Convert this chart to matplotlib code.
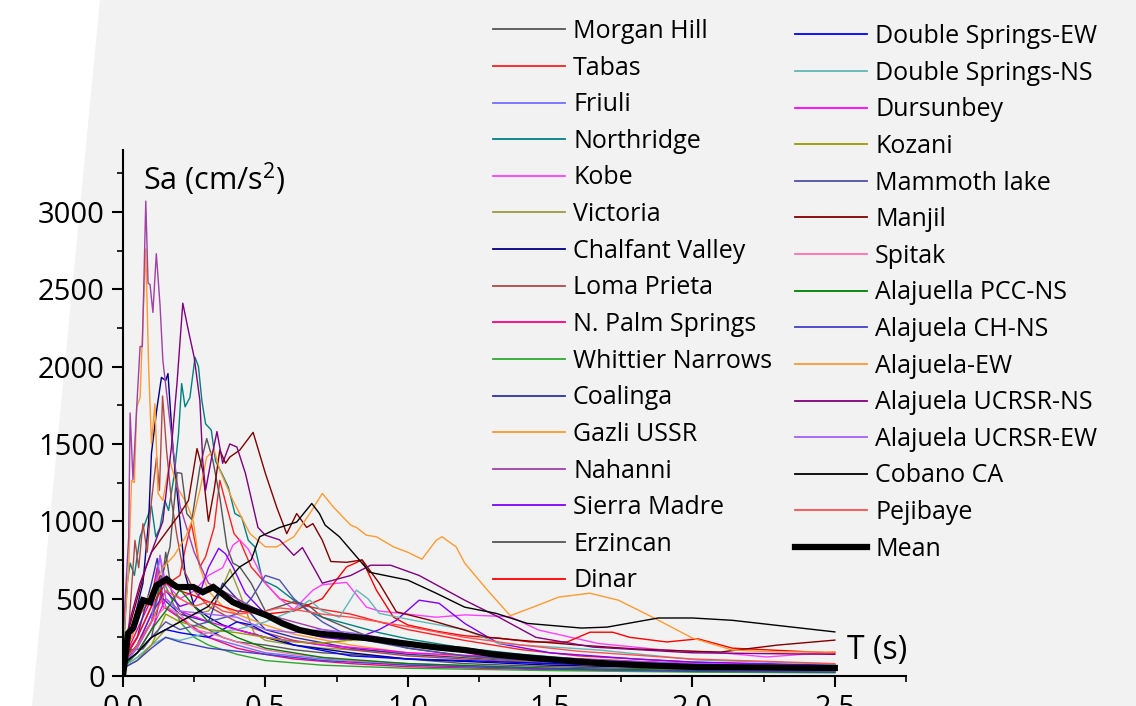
import matplotlib
matplotlib.use("Agg")
import matplotlib.pyplot as plt
from matplotlib.patches import Polygon
from matplotlib.ticker import MultipleLocator

plt.rcParams['font.family'] = ['Open Sans', 'DejaVu Sans']
plt.rcParams['mathtext.fontset'] = 'custom'
plt.rcParams['mathtext.rm'] = 'Open Sans'
plt.rcParams['mathtext.it'] = 'Open Sans'

# ---------------- data: (T [s], Sa [cm/s^2]) ----------------
morgan_hill = [(0, 80), (0.03, 170), (0.07, 175), (0.1, 250), (0.13, 500), (0.15, 800), (0.17, 550), (0.2, 420),
               (0.25, 350), (0.3, 300), (0.35, 250), (0.4, 220), (0.5, 200), (0.6, 170), (0.7, 150), (0.8, 140),
               (1.0, 110), (1.2, 80), (1.5, 60), (2.0, 40), (2.5, 30)]
tabas = [(0, 150), (0.03, 250), (0.06, 400), (0.1, 500), (0.13, 650), (0.16, 600), (0.2, 650), (0.22, 835),
         (0.24, 985), (0.27, 705), (0.29, 770), (0.32, 960), (0.34, 1265), (0.365, 1090), (0.39, 920), (0.41, 877),
         (0.45, 705), (0.5, 600), (0.55, 500), (0.6, 470), (0.7, 430), (0.8, 400), (0.9, 350), (1.0, 300),
         (1.2, 230), (1.4, 170), (1.6, 130), (2.0, 90), (2.5, 60)]
friuli = [(0, 90), (0.05, 200), (0.1, 350), (0.13, 560), (0.15, 450), (0.2, 380), (0.25, 300), (0.3, 250),
          (0.4, 200), (0.5, 150), (0.7, 110), (1.0, 80), (1.5, 50), (2.0, 35), (2.5, 25)]
northridge = [(0, 100), (0.015, 600), (0.025, 730), (0.04, 650), (0.06, 900), (0.08, 1000), (0.1, 1100),
              (0.115, 900), (0.13, 960), (0.147, 1135), (0.16, 1070), (0.18, 1300), (0.195, 1565), (0.206, 1890),
              (0.218, 1740), (0.235, 1800), (0.253, 2060), (0.265, 2000), (0.277, 1780), (0.29, 1630),
              (0.31, 1590), (0.325, 1390), (0.347, 1310), (0.37, 1220), (0.393, 1050), (0.417, 1025),
              (0.44, 877), (0.463, 835), (0.49, 620), (0.54, 575), (0.6, 490), (0.65, 420), (0.7, 380),
              (0.8, 330), (0.9, 280), (1.0, 240), (1.2, 180), (1.4, 140), (1.6, 110), (1.8, 90), (2.0, 75),
              (2.5, 55)]
kobe = [(0, 120), (0.05, 250), (0.1, 450), (0.13, 780), (0.15, 600), (0.2, 500), (0.25, 550), (0.3, 650),
        (0.35, 700), (0.386, 845), (0.41, 880), (0.44, 820), (0.5, 600), (0.55, 500), (0.6, 430), (0.667, 555),
        (0.7, 590), (0.785, 605), (0.855, 445), (0.9, 420), (1.0, 400), (1.1, 380), (1.2, 395), (1.36, 383),
        (1.46, 297), (1.67, 210), (1.9, 168), (2.1, 150), (2.26, 123), (2.5, 155)]
victoria = [(0, 60), (0.05, 120), (0.1, 200), (0.15, 300), (0.2, 350), (0.25, 400), (0.3, 420), (0.33, 490),
            (0.376, 690), (0.41, 535), (0.46, 280), (0.5, 230), (0.6, 200), (0.7, 180), (0.8, 170), (1.0, 150),
            (1.2, 120), (1.5, 80), (2.0, 50), (2.5, 35)]
chalfant_valley = [(0, 100), (0.03, 300), (0.05, 450), (0.07, 600), (0.09, 1000), (0.1, 1440), (0.118, 1715),
                   (0.135, 1930), (0.15, 1910), (0.158, 1955), (0.176, 1460), (0.2, 1000), (0.218, 660),
                   (0.25, 450), (0.3, 380), (0.35, 330), (0.4, 300), (0.5, 250), (0.6, 200), (0.8, 150),
                   (1.0, 110), (1.5, 70), (2.0, 50), (2.5, 35)]
loma_prieta = [(0, 120), (0.02, 300), (0.042, 877), (0.055, 700), (0.07, 985), (0.085, 800), (0.1, 1135),
               (0.118, 1415), (0.128, 1200), (0.139, 1810), (0.153, 1460), (0.17, 1135), (0.19, 900),
               (0.21, 700), (0.25, 550), (0.3, 450), (0.4, 350), (0.5, 280), (0.6, 230), (0.8, 170),
               (1.0, 130), (1.5, 80), (2.0, 55), (2.5, 40)]
n_palm_springs = [(0, 100), (0.05, 300), (0.1, 500), (0.12, 700), (0.14, 450), (0.18, 400), (0.22, 350),
                  (0.3, 250), (0.4, 180), (0.5, 140), (0.6, 110), (0.8, 80), (1.0, 60), (1.5, 40), (2.0, 30),
                  (2.5, 25)]
whittier_narrows = [(0, 80), (0.05, 200), (0.1, 400), (0.14, 620), (0.17, 500), (0.2, 350), (0.25, 250),
                    (0.3, 200), (0.4, 140), (0.5, 100), (0.7, 70), (1.0, 50), (1.5, 35), (2.0, 25), (2.5, 20)]
coalinga = [(0, 90), (0.05, 250), (0.1, 600), (0.12, 760), (0.14, 500), (0.2, 400), (0.3, 350), (0.35, 600),
            (0.4, 500), (0.5, 300), (0.6, 250), (0.8, 180), (1.0, 140), (1.5, 90), (2.0, 60), (2.5, 45)]
gazli_ussr = [(0, 200), (0.02, 700), (0.03, 1265), (0.04, 1250), (0.048, 1737), (0.06, 1800), (0.07, 2300),
              (0.08, 2760), (0.09, 2000), (0.1, 1500), (0.112, 1760), (0.123, 1180), (0.14, 1135),
              (0.165, 1390), (0.19, 1220), (0.224, 1115), (0.247, 1000), (0.27, 700), (0.3, 550), (0.35, 450),
              (0.4, 400), (0.5, 330), (0.6, 270), (0.8, 200), (1.0, 150), (1.5, 90), (2.0, 60), (2.5, 45)]
nahanni = [(0, 250), (0.02, 900), (0.025, 1700), (0.035, 1270), (0.05, 1800), (0.06, 2130), (0.068, 2130),
           (0.08, 3070), (0.088, 2540), (0.095, 2530), (0.105, 2350), (0.117, 2730), (0.13, 2400), (0.14, 2040),
           (0.155, 1800), (0.175, 1480), (0.2, 1100), (0.25, 800), (0.3, 600), (0.4, 500), (0.5, 400),
           (0.7, 300), (1.0, 200), (1.5, 120), (2.0, 80), (2.5, 60)]
sierra_madre = [(0, 80), (0.05, 200), (0.1, 400), (0.15, 550), (0.2, 450), (0.25, 480), (0.27, 535), (0.3, 700),
                (0.336, 825), (0.36, 790), (0.386, 705), (0.43, 535), (0.5, 400), (0.6, 300), (0.7, 250),
                (0.8, 230), (0.9, 300), (0.96, 360), (1.04, 490), (1.11, 470), (1.2, 340), (1.32, 210),
                (1.5, 150), (1.8, 110), (2.0, 90), (2.5, 70)]
erzincan = [(0, 90), (0.05, 200), (0.1, 350), (0.13, 600), (0.165, 835), (0.19, 1315), (0.206, 1310),
            (0.224, 1050), (0.242, 1010), (0.27, 1350), (0.294, 1535), (0.316, 1390), (0.34, 1155),
            (0.365, 835), (0.386, 730), (0.41, 705), (0.45, 600), (0.5, 420), (0.6, 480), (0.65, 460),
            (0.7, 380), (0.8, 300), (0.9, 230), (1.0, 180), (1.2, 130), (1.5, 90), (2.0, 60), (2.5, 45)]
dinar = [(0, 100), (0.05, 250), (0.1, 450), (0.15, 600), (0.2, 550), (0.25, 520), (0.3, 480), (0.4, 420),
         (0.5, 400), (0.6, 420), (0.7, 500), (0.73, 575), (0.785, 705), (0.84, 750), (0.89, 555), (0.95, 380),
         (1.0, 330), (1.1, 290), (1.2, 260), (1.32, 245), (1.43, 220), (1.56, 220), (1.64, 283), (1.72, 283),
         (1.78, 250), (1.91, 220), (2.02, 240), (2.14, 180), (2.5, 148)]
double_springs_ew = [(0, 70), (0.05, 150), (0.1, 250), (0.15, 300), (0.2, 280), (0.3, 250), (0.4, 350),
                     (0.45, 330), (0.5, 280), (0.6, 200), (0.8, 130), (1.0, 110), (1.2, 100), (1.5, 80),
                     (2.0, 60), (2.5, 45)]
double_springs_ns = [(0, 60), (0.05, 120), (0.1, 200), (0.15, 250), (0.2, 230), (0.3, 280), (0.4, 300),
                     (0.5, 350), (0.6, 425), (0.656, 490), (0.7, 420), (0.76, 380), (0.82, 555), (0.86, 500),
                     (0.9, 405), (1.02, 360), (1.2, 300), (1.32, 210), (1.67, 168), (2.02, 103), (2.5, 77)]
dursunbey = [(0, 60), (0.05, 150), (0.1, 300), (0.15, 500), (0.2, 420), (0.3, 350), (0.4, 300), (0.5, 250),
             (0.7, 200), (0.9, 170), (1.0, 150), (1.5, 110), (2.0, 80), (2.5, 60)]
kozani = [(0, 50), (0.05, 100), (0.1, 200), (0.15, 400), (0.2, 350), (0.3, 300), (0.4, 280), (0.5, 250),
          (0.6, 220), (0.7, 213), (0.8, 232), (0.9, 240), (1.0, 220), (1.2, 160), (1.5, 100), (2.0, 60),
          (2.5, 45)]
mammoth_lake = [(0, 60), (0.05, 150), (0.1, 250), (0.15, 350), (0.2, 300), (0.3, 350), (0.4, 400), (0.45, 500),
                (0.5, 650), (0.55, 620), (0.6, 500), (0.7, 350), (0.8, 250), (1.0, 180), (1.2, 130), (1.5, 90),
                (2.0, 60), (2.5, 40)]
manjil = [(0, 100), (0.02, 300), (0.05, 500), (0.08, 700), (0.1, 800), (0.14, 900), (0.18, 1000), (0.2, 1050),
          (0.23, 1135), (0.26, 1470), (0.28, 1330), (0.3, 1000), (0.32, 1200), (0.34, 1460), (0.36, 1375),
          (0.375, 1415), (0.41, 1460), (0.457, 1575), (0.5, 1310), (0.54, 1090), (0.575, 920), (0.61, 1050),
          (0.645, 960), (0.667, 985), (0.7, 877), (0.73, 740), (0.785, 735), (0.84, 750), (0.9, 600),
          (0.96, 415), (1.08, 360), (1.2, 297), (1.28, 250), (1.4, 230), (1.6, 200), (1.8, 175), (2.0, 160),
          (2.1, 155), (2.3, 200), (2.5, 232)]
spitak = [(0, 70), (0.05, 180), (0.1, 350), (0.15, 450), (0.2, 400), (0.25, 300), (0.3, 280), (0.4, 220),
          (0.5, 170), (0.6, 140), (0.8, 100), (1.0, 75), (1.5, 50), (2.0, 35), (2.5, 30)]
alajuella_pcc_ns = [(0, 60), (0.05, 150), (0.1, 300), (0.15, 420), (0.2, 560), (0.25, 450), (0.3, 350),
                    (0.4, 250), (0.5, 180), (0.7, 120), (1.0, 80), (1.5, 50), (2.0, 35), (2.5, 25)]
alajuela_ch_ns = [(0, 50), (0.05, 100), (0.1, 180), (0.15, 250), (0.2, 220), (0.3, 180), (0.4, 160), (0.5, 140),
                  (0.7, 100), (1.0, 70), (1.5, 45), (2.0, 30), (2.5, 25)]
alajuela_ew = [(0, 100), (0.03, 250), (0.06, 400), (0.1, 550), (0.14, 700), (0.18, 780), (0.22, 900),
               (0.247, 1025), (0.27, 1200), (0.294, 1415), (0.32, 1460), (0.34, 1330), (0.386, 1135),
               (0.446, 920), (0.5, 835), (0.54, 835), (0.6, 900), (0.656, 1050), (0.7, 1180), (0.74, 1090),
               (0.8, 975), (0.82, 960), (0.855, 910), (0.89, 900), (0.95, 835), (1.0, 800), (1.05, 755),
               (1.1, 877), (1.12, 900), (1.17, 835), (1.2, 730), (1.28, 555), (1.36, 390), (1.44, 445),
               (1.53, 510), (1.64, 535), (1.74, 490), (1.86, 380), (2.0, 245), (2.14, 168), (2.3, 155),
               (2.5, 155)]
alajuela_ucrsr_ns = [(0, 150), (0.03, 400), (0.06, 600), (0.1, 800), (0.14, 1000), (0.17, 1480), (0.19, 1900),
                     (0.21, 2410), (0.23, 2230), (0.25, 2060), (0.27, 1780), (0.28, 1390), (0.29, 1200),
                     (0.31, 1400), (0.33, 1580), (0.35, 1375), (0.375, 1500), (0.4, 1480), (0.43, 1310),
                     (0.452, 1135), (0.474, 960), (0.5, 910), (0.55, 880), (0.6, 780), (0.63, 830), (0.67, 700),
                     (0.7, 600), (0.8, 650), (0.87, 716), (0.94, 716), (1.04, 650), (1.2, 490), (1.32, 380),
                     (1.45, 250), (1.65, 187), (2.0, 150), (2.5, 140)]
alajuela_ucrsr_ew = [(0, 70), (0.05, 180), (0.1, 350), (0.13, 780), (0.15, 500), (0.2, 420), (0.3, 400),
                     (0.4, 380), (0.5, 300), (0.6, 280), (0.7, 300), (0.8, 280), (0.9, 250), (1.0, 220),
                     (1.2, 160), (1.5, 110), (2.0, 80), (2.5, 60)]
cobano_ca = [(0, 80), (0.05, 150), (0.1, 250), (0.15, 300), (0.2, 350), (0.3, 450), (0.36, 600), (0.41, 705),
             (0.45, 750), (0.48, 900), (0.55, 960), (0.61, 995), (0.663, 1115), (0.69, 1050), (0.71, 975),
             (0.76, 900), (0.83, 750), (0.867, 670), (1.0, 620), (1.1, 535), (1.2, 445), (1.31, 405),
             (1.42, 340), (1.61, 310), (1.7, 316), (1.88, 375), (2.0, 375), (2.14, 360), (2.5, 285)]
pejibaye = [(0, 90), (0.05, 200), (0.1, 350), (0.15, 550), (0.2, 500), (0.25, 450), (0.3, 480), (0.35, 420),
            (0.4, 400), (0.5, 420), (0.55, 440), (0.6, 430), (0.7, 400), (0.8, 380), (0.9, 350), (1.0, 320),
            (1.2, 250), (1.4, 200), (1.6, 160), (2.0, 110), (2.5, 80)]
mean = [(0, 0), (0.018, 277), (0.036, 310), (0.055, 420), (0.07, 490), (0.095, 477), (0.118, 587), (0.14, 610),
        (0.153, 626), (0.17, 600), (0.19, 575), (0.22, 575), (0.247, 575), (0.28, 542), (0.317, 575),
        (0.35, 530), (0.386, 477), (0.42, 450), (0.457, 425), (0.504, 393), (0.56, 340), (0.62, 297),
        (0.68, 275), (0.737, 265), (0.855, 245), (0.97, 215), (1.1, 185), (1.2, 168), (1.3, 140), (1.44, 116),
        (1.55, 100), (1.67, 84), (1.85, 68), (2.02, 58), (2.25, 55), (2.5, 52)]

col1_names = ['Morgan Hill', 'Tabas', 'Friuli', 'Northridge', 'Kobe', 'Victoria', 'Chalfant Valley',
              'Loma Prieta', 'N. Palm Springs', 'Whittier Narrows', 'Coalinga', 'Gazli USSR', 'Nahanni',
              'Sierra Madre', 'Erzincan', 'Dinar']
col1_data = [morgan_hill, tabas, friuli, northridge, kobe, victoria, chalfant_valley, loma_prieta,
             n_palm_springs, whittier_narrows, coalinga, gazli_ussr, nahanni, sierra_madre, erzincan, dinar]
col1_colors = ['#555555', '#ff2020', '#7070ff', '#008080', '#ff40ff', '#9a9a40', '#000080', '#b04848',
               '#ff0080', '#30a830', '#3030a8', '#ff9a30', '#a040a8', '#8000ff', '#555555', '#ff0000']
col2_names = ['Double Springs-EW', 'Double Springs-NS', 'Dursunbey', 'Kozani', 'Mammoth lake', 'Manjil',
              'Spitak', 'Alajuella PCC-NS', 'Alajuela CH-NS', 'Alajuela-EW', 'Alajuela UCRSR-NS',
              'Alajuela UCRSR-EW', 'Cobano CA', 'Pejibaye']
col2_data = [double_springs_ew, double_springs_ns, dursunbey, kozani, mammoth_lake, manjil, spitak,
             alajuella_pcc_ns, alajuela_ch_ns, alajuela_ew, alajuela_ucrsr_ns, alajuela_ucrsr_ew, cobano_ca,
             pejibaye]
col2_colors = ['#0000ff', '#60b8b8', '#ff00ff', '#999900', '#5050a8', '#800000', '#ff70b0', '#008000',
               '#4040c8', '#ff9a30', '#800080', '#a060ff', '#000000', '#ff5050']

# ---------------- figure ----------------
W, H = 1136, 706
fig = plt.figure(figsize=(W / 100, H / 100), dpi=100, facecolor='#f2f2f2')
fig.patches.append(Polygon([(0, 0), (32 / W, 0), (100 / W, 1), (0, 1)], closed=True,
                           transform=fig.transFigure, facecolor='white', edgecolor='none', zorder=-10))

ax = fig.add_axes([123 / W, (H - 676) / H, (906 - 123) / W, (676 - 150) / H])
ax.set_facecolor('none')

handles1, handles2 = [], []
for name, data, color in zip(col1_names, col1_data, col1_colors):
    t, s = zip(*data)
    h, = ax.plot(t, s, color=color, lw=1.0, label=name, clip_on=False)
    handles1.append(h)
for name, data, color in zip(col2_names, col2_data, col2_colors):
    t, s = zip(*data)
    h, = ax.plot(t, s, color=color, lw=1.0, label=name, clip_on=False)
    handles2.append(h)
t, s = zip(*mean)
hm, = ax.plot(t, s, color='black', lw=4.5, label='Mean', solid_joinstyle='miter', zorder=5)
handles2.append(hm)

ax.set_xlim(0, 2.75)
ax.set_ylim(0, 3400)
ax.xaxis.set_minor_locator(MultipleLocator(0.25))
ax.yaxis.set_minor_locator(MultipleLocator(250))
ax.set_xticks([0, 0.5, 1.0, 1.5, 2.0, 2.5])
ax.set_xticklabels(['0.0', '0.5', '1.0', '1.5', '2.0', '2.5'])
ax.set_yticks([0, 500, 1000, 1500, 2000, 2500, 3000])
for sp in ['top', 'right']:
    ax.spines[sp].set_visible(False)
for sp in ['left', 'bottom']:
    ax.spines[sp].set_linewidth(1.5)
ax.tick_params(which='major', direction='out', length=8, width=1.5, labelsize=21, pad=5)
ax.tick_params(which='minor', direction='out', length=4.5, width=1.2)

ax.text(143 / W, 1 - 190 / H, r'Sa (cm/s$^{\mathrm{2}}$)', transform=fig.transFigure, fontsize=22,
        ha='left', va='baseline')
ax.text(847 / W, 1 - 650 / H, 'T (s)', transform=fig.transFigure, fontsize=23, ha='left', va='center')

leg_kw = dict(frameon=False, fontsize=18, handlelength=2.88, handletextpad=0.32, borderpad=0,
              borderaxespad=0, labelspacing=0.465, loc='upper left')
leg1 = fig.legend(handles=handles1, bbox_to_anchor=(493 / W, 1 - 19 / H), **leg_kw)
leg2 = fig.legend(handles=handles2, bbox_to_anchor=(795 / W, 1 - 24 / H), **leg_kw)
for lg in (leg1, leg2):
    for ln in lg.get_lines():
        if ln.get_linewidth() < 2:
            ln.set_linewidth(1.3)

fig.savefig('out.png', dpi=100, facecolor=fig.get_facecolor())
